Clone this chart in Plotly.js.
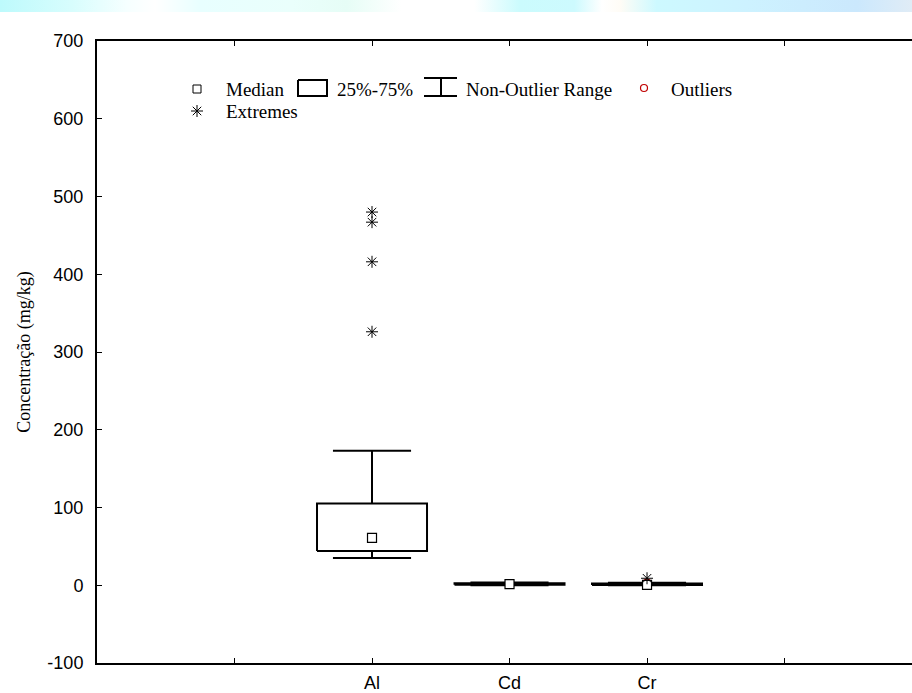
<!DOCTYPE html>
<html>
<head>
<meta charset="utf-8">
<script src="https://cdn.plot.ly/plotly-3.0.1.min.js"></script>
<style>
  html, body { margin: 0; padding: 0; background: #ffffff; }
  #wrap { position: relative; width: 912px; height: 693px; overflow: hidden; }
  #banner { position: absolute; left: 0; top: 0; width: 912px; height: 12px;
    background: linear-gradient(to right, #bdfafc 0%, #d8fdfd 8%, #f6ffff 14%, #ffffff 17%, #e8ffff 22%, #eafffc 32%, #e6fdf6 38%, #ffffff 44%, #ffffff 52%, #cbfbfd 57%, #cdfafe 63%, #ffffff 66%, #fffcf6 68%, #cdf9ff 72%, #cdf2ff 82%, #cbe8fd 94%, #e0ecf6 100%); }
  #chart { position: absolute; left: 0; top: 0; width: 912px; height: 693px; }
</style>
</head>
<body>
<div id="wrap">
  <div id="banner"></div>
  <div id="chart"></div>
</div>
<script>
// ---- data ----
var categories   = ['Al', 'Cd', 'Cr'];
var medians      = [61, 1.5, 0.5];
var q1Values     = [44, 0.5, 0.2];
var q3Values     = [105, 2.5, 2.2];
var whiskerLow   = [35, 0.1, 0.0];
var whiskerHigh  = [173, 3.5, 3.2];
var outlierCat   = ['Cr'];
var outlierVals  = [3.5];
var extremeCat   = ['Al', 'Al', 'Al', 'Al', 'Cr'];
var extremeVals  = [480, 467, 416, 326, 9];
var tickLabels   = ['', 'Al', 'Cd', 'Cr', ''];
var yTickVals    = [-100, 0, 100, 200, 300, 400, 500, 600, 700];
var yTickText    = ['-100', '0', '100', '200', '300', '400', '500', '600', '700'];
var legendLabels = ['Median', '25%-75%', 'Non-Outlier Range', 'Outliers', 'Extremes'];
var yTitle = 'Concentração (mg/kg)';

// ---- geometry ----
var offset = 2;               // first category sits at x = 2
var boxHalf = 0.4, capHalf = 0.284;
function pos(c) { return categories.indexOf(c) + offset; }

var boxX = [], boxY = [], whX = [], whY = [];
categories.forEach(function (c, i) {
  var p = pos(c);
  boxX.push(p - boxHalf, p + boxHalf, p + boxHalf, p - boxHalf, p - boxHalf, null);
  boxY.push(q1Values[i], q1Values[i], q3Values[i], q3Values[i], q1Values[i], null);
  whX.push(p, p, null, p - capHalf, p + capHalf, null);
  whY.push(q3Values[i], whiskerHigh[i], null, whiskerHigh[i], whiskerHigh[i], null);
  whX.push(p, p, null, p - capHalf, p + capHalf, null);
  whY.push(q1Values[i], whiskerLow[i], null, whiskerLow[i], whiskerLow[i], null);
});

var traces = [
  { x: boxX, y: boxY, mode: 'lines', line: { color: '#000', width: 2 }, hoverinfo: 'skip', showlegend: false },
  { x: whX, y: whY, mode: 'lines', line: { color: '#000', width: 2 }, hoverinfo: 'skip', showlegend: false },
  { x: outlierCat.map(pos), y: outlierVals, mode: 'markers',
    marker: { symbol: 'circle-open', size: 7, color: '#c00000', line: { width: 1.2 } }, showlegend: false },
  { x: categories.map(pos), y: medians, mode: 'markers',
    marker: { symbol: 'square', size: 9, color: '#ffffff', line: { color: '#000', width: 1.2 } }, showlegend: false },
  { x: extremeCat.map(pos), y: extremeVals, mode: 'markers',
    marker: { symbol: 'asterisk-open', size: 10, color: '#000', line: { color: '#000', width: 1 } }, showlegend: false }
];

// ---- legend drawn in pixel coordinates on an overlay axis pair ----
var L1 = 89, L2 = 111;
var legMarkX = 197;
traces.push({ x: [legMarkX], y: [L1], xaxis: 'x2', yaxis: 'y2', mode: 'markers',
  marker: { symbol: 'square-open', size: 8, color: '#000', line: { width: 1 } }, showlegend: false, hoverinfo: 'skip' });
traces.push({ x: [644], y: [L1 - 1], xaxis: 'x2', yaxis: 'y2', mode: 'markers',
  marker: { symbol: 'circle-open', size: 7, color: '#c00000', line: { width: 1.2 } }, showlegend: false, hoverinfo: 'skip' });
traces.push({ x: [legMarkX], y: [L2], xaxis: 'x2', yaxis: 'y2', mode: 'markers',
  marker: { symbol: 'asterisk-open', size: 10, color: '#000', line: { width: 1 } }, showlegend: false, hoverinfo: 'skip' });
traces.push({ x: [298, 327, 327, 298, 298], y: [80, 80, 96, 96, 80], xaxis: 'x2', yaxis: 'y2', mode: 'lines',
  line: { color: '#000', width: 2 }, showlegend: false, hoverinfo: 'skip' });
traces.push({ x: [424, 457, null, 441, 441, null, 424, 457], y: [78, 78, null, 78, 96, null, 96, 96],
  xaxis: 'x2', yaxis: 'y2', mode: 'lines', line: { color: '#000', width: 2 }, showlegend: false, hoverinfo: 'skip' });

var serif = 'Liberation Serif, Times New Roman, serif';
var legFont = { family: serif, size: 19, color: '#000' };
var legText = [
  { t: legendLabels[0], x: 224, y: L1 },
  { t: legendLabels[1], x: 335, y: L1 },
  { t: legendLabels[2], x: 464, y: L1 },
  { t: legendLabels[3], x: 669, y: L1 },
  { t: legendLabels[4], x: 224, y: L2 }
];
var annotations = legText.map(function (a) {
  return { text: a.t, x: a.x, y: a.y, xref: 'x2', yref: 'y2', xanchor: 'left', yanchor: 'middle',
    showarrow: false, font: legFont };
});

var layout = {
  width: 912, height: 693,
  margin: { l: 97, r: 0, t: 41, b: 30 },
  paper_bgcolor: 'rgba(0,0,0,0)',
  plot_bgcolor: 'rgba(0,0,0,0)',
  showlegend: false,
  xaxis: {
    range: [0, 5.927], tickvals: [1, 2, 3, 4, 5], ticktext: tickLabels,
    ticks: 'inside', ticklen: 5, tickwidth: 1, tickcolor: '#000',
    showline: true, linewidth: 2, linecolor: '#000', mirror: 'allticks',
    showgrid: false, zeroline: false, ticklabelstandoff: 2,
    tickfont: { family: 'Liberation Sans, Arial, sans-serif', size: 18, color: '#000' }
  },
  yaxis: {
    range: [-100, 700], tickvals: yTickVals, ticktext: yTickText,
    ticks: 'inside', ticklen: 5, tickwidth: 1, tickcolor: '#000',
    showline: true, linewidth: 2, linecolor: '#000',
    showgrid: false, zeroline: false, ticklabelstandoff: 8,
    tickfont: { family: 'Liberation Sans, Arial, sans-serif', size: 18, color: '#000' },
    title: { text: yTitle, font: { family: serif, size: 18, color: '#000' }, standoff: 12 }
  },
  xaxis2: { overlaying: 'x', range: [97, 912], visible: false, fixedrange: true },
  yaxis2: { overlaying: 'y', range: [663, 41], visible: false, fixedrange: true },
  annotations: annotations
};

Plotly.newPlot('chart', traces, layout, { staticPlot: true, displayModeBar: false });
</script>
</body>
</html>
